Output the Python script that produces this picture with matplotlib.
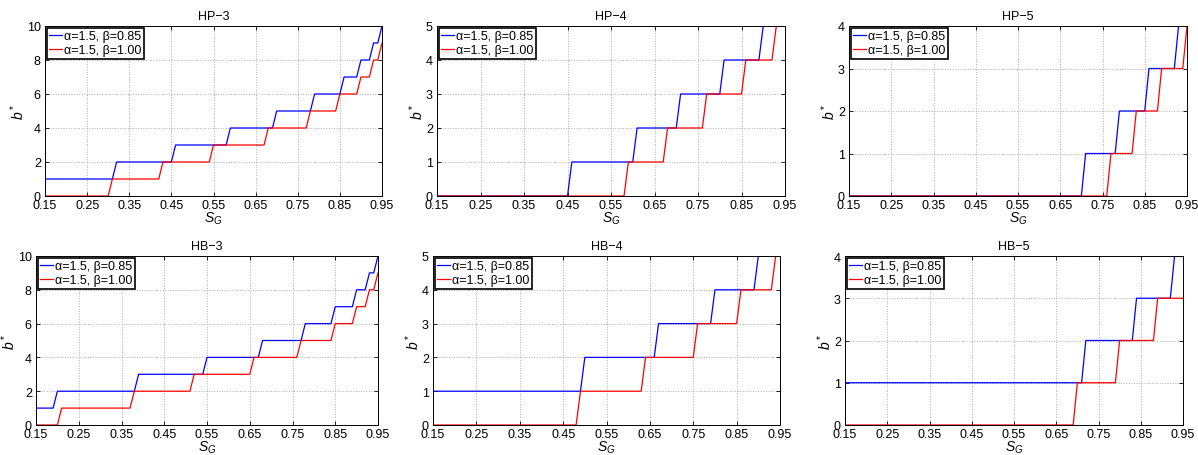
import matplotlib
matplotlib.use("Agg")
import matplotlib.pyplot as plt
import numpy as np

plt.rcParams['font.family'] = ['Liberation Sans', 'DejaVu Sans']
plt.rcParams['mathtext.fontset'] = 'custom'
plt.rcParams['mathtext.it'] = 'Liberation Sans:italic'
plt.rcParams['mathtext.rm'] = 'Liberation Sans'

titles = ["HP\u22123", "HP\u22124", "HP\u22125", "HB\u22123", "HB\u22124", "HB\u22125"]
legend_labels = ["\u03b1=1.5, \u03b2=0.85", "\u03b1=1.5, \u03b2=1.00"]
xticks = [0.15, 0.25, 0.35, 0.45, 0.55, 0.65, 0.75, 0.85, 0.95]
ymax = [10, 5, 4, 10, 5, 4]
ystep = [2, 1, 1, 2, 1, 1]

# S_G at which b* starts stepping up by one, and initial b* level, per series
hp3_b085_start, hp3_b085_up = 1, [0.31, 0.45, 0.58, 0.69, 0.78, 0.85, 0.89, 0.92, 0.94]
hp3_b100_start, hp3_b100_up = 0, [0.30, 0.42, 0.54, 0.67, 0.77, 0.84, 0.89, 0.92, 0.94]
hp4_b085_start, hp4_b085_up = 0, [0.45, 0.60, 0.70, 0.80, 0.89]
hp4_b100_start, hp4_b100_up = 0, [0.58, 0.67, 0.76, 0.85, 0.92]
hp5_b085_start, hp5_b085_up = 0, [0.70, 0.78, 0.85, 0.92]
hp5_b100_start, hp5_b100_up = 0, [0.76, 0.82, 0.88, 0.94]
hb3_b085_start, hb3_b085_up = 1, [0.19, 0.38, 0.54, 0.67, 0.77, 0.84, 0.89, 0.92, 0.94]
hb3_b100_start, hb3_b100_up = 0, [0.20, 0.37, 0.51, 0.65, 0.76, 0.84, 0.89, 0.92, 0.94]
hb4_b085_start, hb4_b085_up = 1, [0.49, 0.66, 0.79, 0.89]
hb4_b100_start, hb4_b100_up = 0, [0.48, 0.63, 0.75, 0.85, 0.93]
hb5_b085_start, hb5_b085_up = 1, [0.71, 0.83, 0.92]
hb5_b100_start, hb5_b100_up = 0, [0.69, 0.79, 0.88]

series = [
    ((hp3_b085_start, hp3_b085_up), (hp3_b100_start, hp3_b100_up)),
    ((hp4_b085_start, hp4_b085_up), (hp4_b100_start, hp4_b100_up)),
    ((hp5_b085_start, hp5_b085_up), (hp5_b100_start, hp5_b100_up)),
    ((hb3_b085_start, hb3_b085_up), (hb3_b100_start, hb3_b100_up)),
    ((hb4_b085_start, hb4_b085_up), (hb4_b100_start, hb4_b100_up)),
    ((hb5_b085_start, hb5_b085_up), (hb5_b100_start, hb5_b100_up)),
]

SG_MIN, SG_MAX, SG_STEP = 0.15, 0.95, 0.01


def vertices(start, ups):
    xs, ys = [SG_MIN], [start]
    level = start
    for u in ups:
        xs.append(u); ys.append(level)
        level += 1
        xs.append(min(u + SG_STEP, SG_MAX)); ys.append(level)
    if xs[-1] < SG_MAX:
        xs.append(SG_MAX); ys.append(level)
    return xs, ys


W, H = 1198, 456
# axes boxes in pixels: left, right, top, bottom
boxes = [
    (45, 382, 27, 197), (437, 785, 27, 197), (849, 1187, 27, 197),
    (36, 378, 257, 426), (433, 780, 257, 426), (845, 1183, 257, 426),
]

fig = plt.figure(figsize=(W / 100, H / 100), dpi=100)
colors = ['#0000ff', '#ff0000']
fs = 9

for i, (l, r, t, b) in enumerate(boxes):
    ax = fig.add_axes([l / W, (H - b) / H, (r - l) / W, (b - t) / H])
    for (start, ups), c, lab in zip(series[i], colors, legend_labels):
        xs, ys = vertices(start, ups)
        ax.plot(xs, ys, color=c, lw=0.9, label=lab)
    ax.set_xlim(SG_MIN, SG_MAX)
    ax.set_ylim(0, ymax[i])
    ax.set_xticks(xticks)
    ax.set_xticklabels([f"{v:.2f}" for v in xticks])
    ax.set_yticks(np.arange(0, ymax[i] + 1, ystep[i]))
    ax.tick_params(direction='in', top=True, right=True, labelsize=fs, length=3, width=0.6)
    ax.tick_params(axis='x', pad=2)
    ax.tick_params(axis='y', pad=3)
    ax.grid(True, color='#b0b0b0', linestyle=':', linewidth=0.7)
    for s in ax.spines.values():
        s.set_linewidth(0.7)
    ax.set_title(titles[i], fontsize=fs, pad=5)
    ax.set_xlabel(r'$S_G$', fontsize=fs + 1, labelpad=-1)
    ax.set_ylabel(r'$b^*$', fontsize=fs + 1, labelpad=0)
    leg = ax.legend(loc='upper left', fontsize=fs, frameon=True, fancybox=False,
                    borderpad=0.2, handlelength=1.0, handletextpad=0.2,
                    labelspacing=0.15, borderaxespad=0.15)
    leg.get_frame().set_edgecolor('black')
    leg.get_frame().set_linewidth(1.2)
    leg.get_frame().set_alpha(1)

fig.savefig("out.png", dpi=100)
